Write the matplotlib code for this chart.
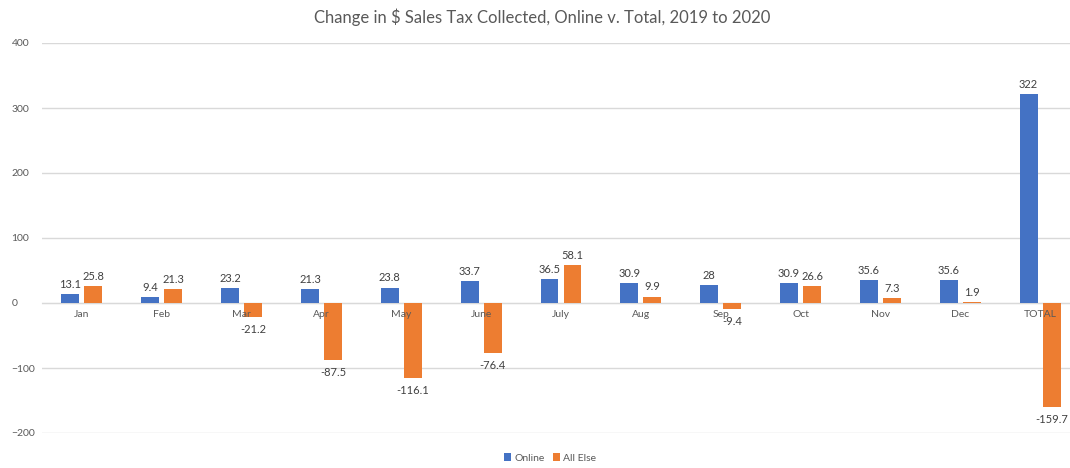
import numpy as np
import matplotlib
matplotlib.use('Agg')
import matplotlib.pyplot as plt

months = ['Jan', 'Feb', 'Mar', 'Apr', 'May', 'June', 'July', 'Aug', 'Sep', 'Oct', 'Nov', 'Dec', 'TOTAL']
online = [13.1, 9.4, 23.2, 21.3, 23.8, 33.7, 36.5, 30.9, 28, 30.9, 35.6, 35.6, 322]
all_else = [25.8, 21.3, -21.2, -87.5, -116.1, -76.4, 58.1, 9.9, -9.4, 26.6, 7.3, 1.9, -159.7]
online_labels = ['13.1', '9.4', '23.2', '21.3', '23.8', '33.7', '36.5', '30.9', '28', '30.9', '35.6', '35.6', '322']
else_labels = ['25.8', '21.3', '-21.2', '-87.5', '-116.1', '-76.4', '58.1', '9.9', '-9.4', '26.6', '7.3', '1.9', '-159.7']

plt.rcParams['font.family'] = ['Lato', 'DejaVu Sans']

fig = plt.figure(figsize=(10.7, 4.68), dpi=100)
# plot area runs a bit past the right edge, like the cropped original
ax = fig.add_axes([42 / 1070, 35 / 468, 1038 / 1070, 390 / 468])

x = np.arange(len(months))
w = 0.225
off = 0.144
b1 = ax.bar(x - off, online, w, color='#4472c4', label='Online', zorder=2)
b2 = ax.bar(x + off, all_else, w, color='#ed7d31', label='All Else', zorder=2)

for bars, labs in ((b1, online_labels), (b2, else_labels)):
    for r, lab in zip(bars, labs):
        h = r.get_height()
        cx = r.get_x() + r.get_width() / 2
        if h >= 0:
            ax.annotate(lab, (cx, h), xytext=(0, 3), textcoords='offset points',
                        ha='center', va='bottom', fontsize=8, color='#404040')
        else:
            ax.annotate(lab, (cx, h), xytext=(0, -5), textcoords='offset points',
                        ha='center', va='top', fontsize=8, color='#404040')

ax.set_xlim(-0.5, len(months) - 0.5)
ax.set_ylim(-200, 400)
ax.set_yticks([-200, -100, 0, 100, 200, 300, 400])
ax.grid(axis='y', color='#d9d9d9', linewidth=1)
ax.set_axisbelow(True)
# month names sit on top of the bars, as in Excel
ax.xaxis.set_zorder(3)

for s in ['top', 'right', 'left']:
    ax.spines[s].set_visible(False)
ax.spines['bottom'].set_position(('data', 0))
ax.spines['bottom'].set_color('#d9d9d9')
ax.spines['bottom'].set_zorder(1)

ax.set_xticks(x)
ax.set_xticklabels(months)
ax.tick_params(axis='x', length=0, pad=5, labelsize=7.5, labelcolor='#595959')
ax.tick_params(axis='y', length=0, pad=22, labelsize=7.5, labelcolor='#595959')
for t in ax.get_yticklabels():
    t.set_horizontalalignment('left')

fig.text(542 / 1070, 1 - 17 / 468, 'Change in $ Sales Tax Collected, Online v. Total, 2019 to 2020',
         ha='center', va='center', fontsize=12, color='#595959')

fig.legend(handles=[b1, b2], loc='center', bbox_to_anchor=(550 / 1070, 1 - 458 / 468),
           ncol=2, frameon=False, fontsize=7.5, handlelength=0.7, handleheight=0.7,
           handletextpad=0.3, columnspacing=0.8, labelcolor='#595959')

fig.savefig('out.png', dpi=100)
